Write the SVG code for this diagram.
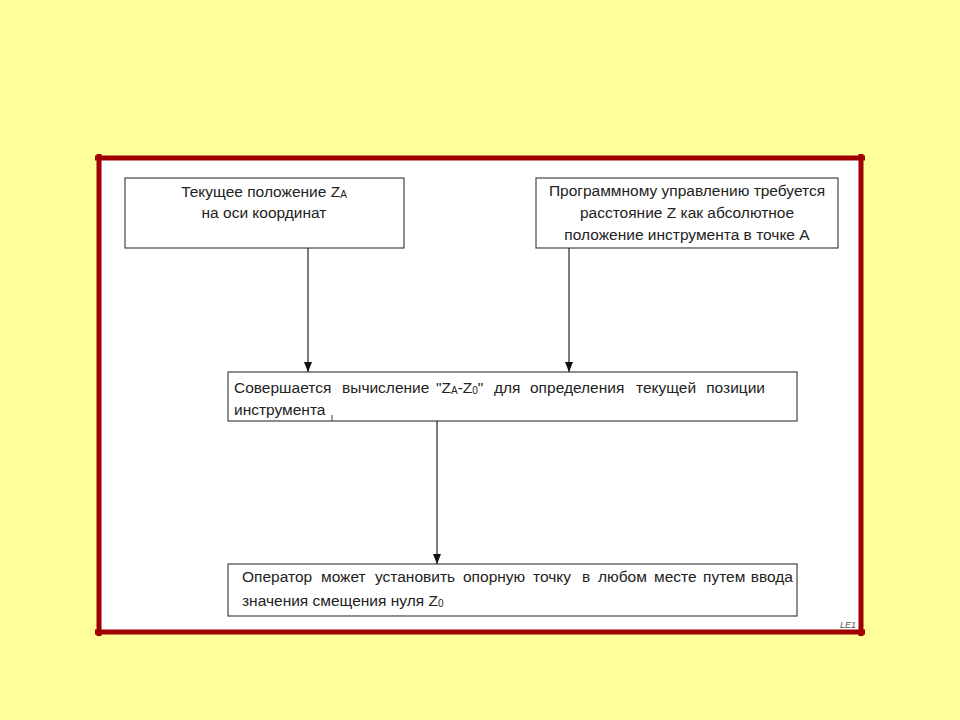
<svg xmlns="http://www.w3.org/2000/svg" width="960" height="720" viewBox="0 0 960 720">
<style>
.box{fill:#fff;stroke:#444;stroke-width:1.2}
.t{font-family:"Liberation Sans",Arial,sans-serif;font-size:15.5px;fill:#222}
.sub{font-size:10px}
.frame{stroke:#A00000;stroke-width:5;fill:none}
.conn line{stroke:#222;stroke-width:1.2}
</style>
<defs>
<marker id="arr" viewBox="0 0 10 10" refX="10" refY="5" markerWidth="10" markerHeight="10" markerUnits="userSpaceOnUse" orient="auto">
<path d="M0,1 L10,5 L0,9 Z" fill="#111"/>
</marker>
</defs>
<rect width="960" height="720" fill="#FFFF99"/>
<rect x="99" y="158" width="762" height="474" fill="#fff"/>
<g id="frame">
<line class="frame" x1="95" y1="158" x2="865" y2="158"/>
<line class="frame" x1="95" y1="632" x2="865" y2="632"/>
<line class="frame" x1="99" y1="154" x2="99" y2="636"/>
<line class="frame" x1="861" y1="154" x2="861" y2="636"/>
</g>
<g id="n1">
<rect class="box" x="125" y="178" width="279" height="70"/>
<text class="t" x="264" y="197" text-anchor="middle">Текущее положение Z<tspan class="sub" dy="1">A</tspan></text>
<text class="t" x="264" y="218" text-anchor="middle">на оси координат</text>
</g>
<g id="n2">
<rect class="box" x="536" y="178" width="302" height="70"/>
<text class="t" x="687" y="196" text-anchor="middle">Программному управлению требуется</text>
<text class="t" x="687" y="218" text-anchor="middle">расстояние Z как абсолютное</text>
<text class="t" x="687" y="240" text-anchor="middle">положение инструмента в точке A</text>
</g>
<g id="n3">
<rect class="box" x="228" y="372" width="569" height="49"/>
<text class="t" y="393"><tspan x="234">Совершается</tspan><tspan x="342">вычисление</tspan><tspan x="436">"Z</tspan><tspan class="sub" dy="1">A</tspan><tspan dy="-1">-Z</tspan><tspan class="sub" dy="1">0</tspan><tspan dy="-1">"</tspan><tspan x="494">для</tspan><tspan x="530">определения</tspan><tspan x="636">текущей</tspan></text>
<text class="t" x="765" y="393" text-anchor="end">позиции</text>
<text class="t" x="234" y="415">инструмента</text>
<line x1="332" y1="415" x2="332" y2="421" stroke="#444" stroke-width="1"/>
</g>
<g id="n4">
<rect class="box" x="228" y="564" width="569" height="52"/>
<text class="t" y="582"><tspan x="242">Оператор</tspan><tspan x="321">может</tspan><tspan x="375">установить</tspan><tspan x="463">опорную</tspan><tspan x="533">точку</tspan><tspan x="582">в</tspan><tspan x="598">любом</tspan><tspan x="654">месте</tspan><tspan x="703">путем</tspan></text>
<text class="t" x="793" y="582" text-anchor="end">ввода</text>
<text class="t" x="242" y="606">значения смещения нуля Z<tspan class="sub" dy="1">0</tspan></text>
</g>
<g id="connectors" class="conn">
<line x1="308" y1="248" x2="308" y2="372" marker-end="url(#arr)"/>
<line x1="569" y1="248" x2="569" y2="372" marker-end="url(#arr)"/>
<line x1="437" y1="421" x2="437" y2="564" marker-end="url(#arr)"/>
</g>
<text x="840" y="628" font-family="Liberation Sans,Arial,sans-serif" font-size="9" font-style="italic" fill="#555">LE1</text>
</svg>
